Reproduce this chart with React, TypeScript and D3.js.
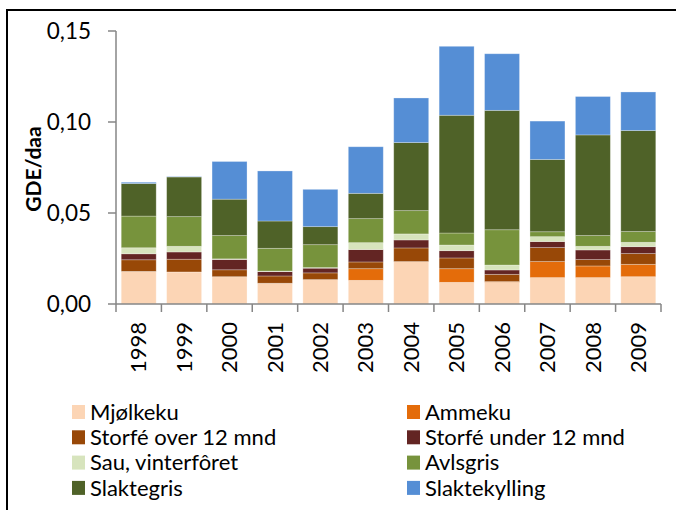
import React, { useEffect, useRef } from "react";
import * as d3 from "d3";

// år langs x-aksen
const years = ["1998", "1999", "2000", "2001", "2002", "2003", "2004", "2005", "2006", "2007", "2008", "2009"];

const seriesNames = [
  "Mjølkeku",
  "Ammeku",
  "Storfé over 12 mnd",
  "Storfé under 12 mnd",
  "Sau, vinterfôret",
  "Avlsgris",
  "Slaktegris",
  "Slaktekylling",
];

const seriesColors = ["#FCD5B5", "#E46C0A", "#984807", "#632523", "#D7E4BD", "#77933C", "#4F6228", "#558ED5"];

// verdier lest av bildet (GDE/daa)
const mjolkeku = [0.0179, 0.0176, 0.015, 0.0114, 0.0134, 0.013, 0.0233, 0.0119, 0.0119, 0.0145, 0.0145, 0.015];
const ammeku = [0, 0, 0, 0, 0, 0.0064, 0, 0.0075, 0.0004, 0.0088, 0.0064, 0.0068];
const storfeOver = [0.0064, 0.007, 0.0038, 0.004, 0.0037, 0.0037, 0.0075, 0.0059, 0.004, 0.0077, 0.0035, 0.0059];
const storfeUnder = [0.0033, 0.004, 0.0057, 0.0024, 0.0026, 0.0068, 0.0044, 0.004, 0.0024, 0.0033, 0.0053, 0.0038];
const sau = [0.0033, 0.0031, 0.0003, 0.0003, 0.0003, 0.0038, 0.0033, 0.0031, 0.0027, 0.0027, 0.002, 0.0024];
const avlsgris = [0.0174, 0.0163, 0.0128, 0.0125, 0.0126, 0.0132, 0.0128, 0.0066, 0.0194, 0.0027, 0.0059, 0.0059];
const slaktegris = [0.0179, 0.0218, 0.02, 0.015, 0.0099, 0.0139, 0.0374, 0.0647, 0.0656, 0.0397, 0.0553, 0.0555];
const slaktekylling = [0.0007, 0.0002, 0.0207, 0.0275, 0.0205, 0.0256, 0.0245, 0.0379, 0.0311, 0.0211, 0.0211, 0.0212];

const yTicks = [0, 0.05, 0.1, 0.15];

const App = () => {
  const svgRef = useRef<SVGSVGElement>(null);

  useEffect(() => {
    const svg = d3.select(svgRef.current);
    svg.selectAll("*").remove();

    const font = "Lato, 'Open Sans', sans-serif";
    const left = 116;
    const right = 661;
    const top = 31;
    const bottom = 304;

    // ramme rundt hele diagrammet
    svg.append("rect")
      .attr("x", 7)
      .attr("y", 10)
      .attr("width", 700)
      .attr("height", 520)
      .attr("fill", "white")
      .attr("stroke", "black")
      .attr("stroke-width", 2);

    const allSeries = [mjolkeku, ammeku, storfeOver, storfeUnder, sau, avlsgris, slaktegris, slaktekylling];
    const table = years.map((y, i) => {
      const row: any = { year: y };
      seriesNames.forEach((n, k) => (row[n] = allSeries[k][i]));
      return row;
    });

    const stacked = d3.stack().keys(seriesNames)(table);

    const x = d3.scaleBand().domain(years).range([left, right]).paddingInner(0.23).paddingOuter(0.115);
    const y = d3.scaleLinear().domain([0, 0.15]).range([bottom, top]);

    // stolper
    svg.append("g")
      .selectAll("g")
      .data(stacked)
      .enter()
      .append("g")
      .attr("fill", (d, i) => seriesColors[i])
      .selectAll("rect")
      .data((d) => d)
      .enter()
      .append("rect")
      .attr("x", (d: any) => x(d.data.year)!)
      .attr("width", x.bandwidth())
      .attr("y", (d) => y(d[1]))
      .attr("height", (d) => Math.max(0, y(d[0]) - y(d[1])))
      .attr("stroke", "rgba(255,255,255,0.35)")
      .attr("stroke-width", 0.8);

    const axisColor = "#868686";

    // y-akse
    const yAxis = svg.append("g");
    yAxis.append("line")
      .attr("x1", left).attr("x2", left)
      .attr("y1", top).attr("y2", bottom)
      .attr("stroke", axisColor).attr("stroke-width", 1.5);
    yAxis.selectAll("line.tick")
      .data(yTicks)
      .enter()
      .append("line")
      .attr("class", "tick")
      .attr("x1", left - 8).attr("x2", left)
      .attr("y1", (d) => y(d)).attr("y2", (d) => y(d))
      .attr("stroke", axisColor).attr("stroke-width", 1.5);
    yAxis.selectAll("text")
      .data(yTicks)
      .enter()
      .append("text")
      .attr("x", 91)
      .attr("y", (d) => y(d))
      .attr("dy", "0.35em")
      .attr("text-anchor", "end")
      .style("font-family", font)
      .style("font-size", "22.5px")
      .text((d) => d3.format(".2f")(d).replace(".", ","));

    svg.append("text")
      .attr("transform", `translate(41, 169) rotate(-90)`)
      .attr("text-anchor", "middle")
      .style("font-family", font)
      .style("font-size", "21px")
      .style("font-weight", "bold")
      .text("GDE/daa");

    // x-akse
    const xAxis = svg.append("g");
    xAxis.append("line")
      .attr("x1", left).attr("x2", right)
      .attr("y1", bottom).attr("y2", bottom)
      .attr("stroke", axisColor).attr("stroke-width", 1.5);
    const step = x.step();
    xAxis.selectAll("line.tick")
      .data(d3.range(years.length + 1))
      .enter()
      .append("line")
      .attr("class", "tick")
      .attr("x1", (i) => left + i * step).attr("x2", (i) => left + i * step)
      .attr("y1", bottom).attr("y2", bottom + 8)
      .attr("stroke", axisColor).attr("stroke-width", 1.5);
    xAxis.selectAll("text")
      .data(years)
      .enter()
      .append("text")
      .attr("transform", (d) => `translate(${x(d)! + x.bandwidth() / 2}, 322) rotate(-90)`)
      .attr("text-anchor", "end")
      .attr("dy", "0.35em")
      .style("font-family", font)
      .style("font-size", "22px")
      .text((d) => d);

    // tegnforklaring
    const legend = svg.append("g")
      .selectAll("g")
      .data(seriesNames)
      .enter()
      .append("g")
      .attr("transform", (d, i) => `translate(${i % 2 === 0 ? 72 : 407}, ${412 + Math.floor(i / 2) * 25.3})`);
    legend.append("rect")
      .attr("x", 0).attr("y", -7)
      .attr("width", 13).attr("height", 14)
      .attr("fill", (d, i) => seriesColors[i]);
    legend.append("text")
      .attr("x", 18)
      .attr("dy", "0.35em")
      .style("font-family", font)
      .style("font-size", "22px")
      .text((d) => d);
  }, []);

  return (
    <svg
      ref={svgRef}
      width={676}
      height={510}
      style={{ position: "absolute", left: 0, top: 0, background: "white" }}
    />
  );
};

export default App;
